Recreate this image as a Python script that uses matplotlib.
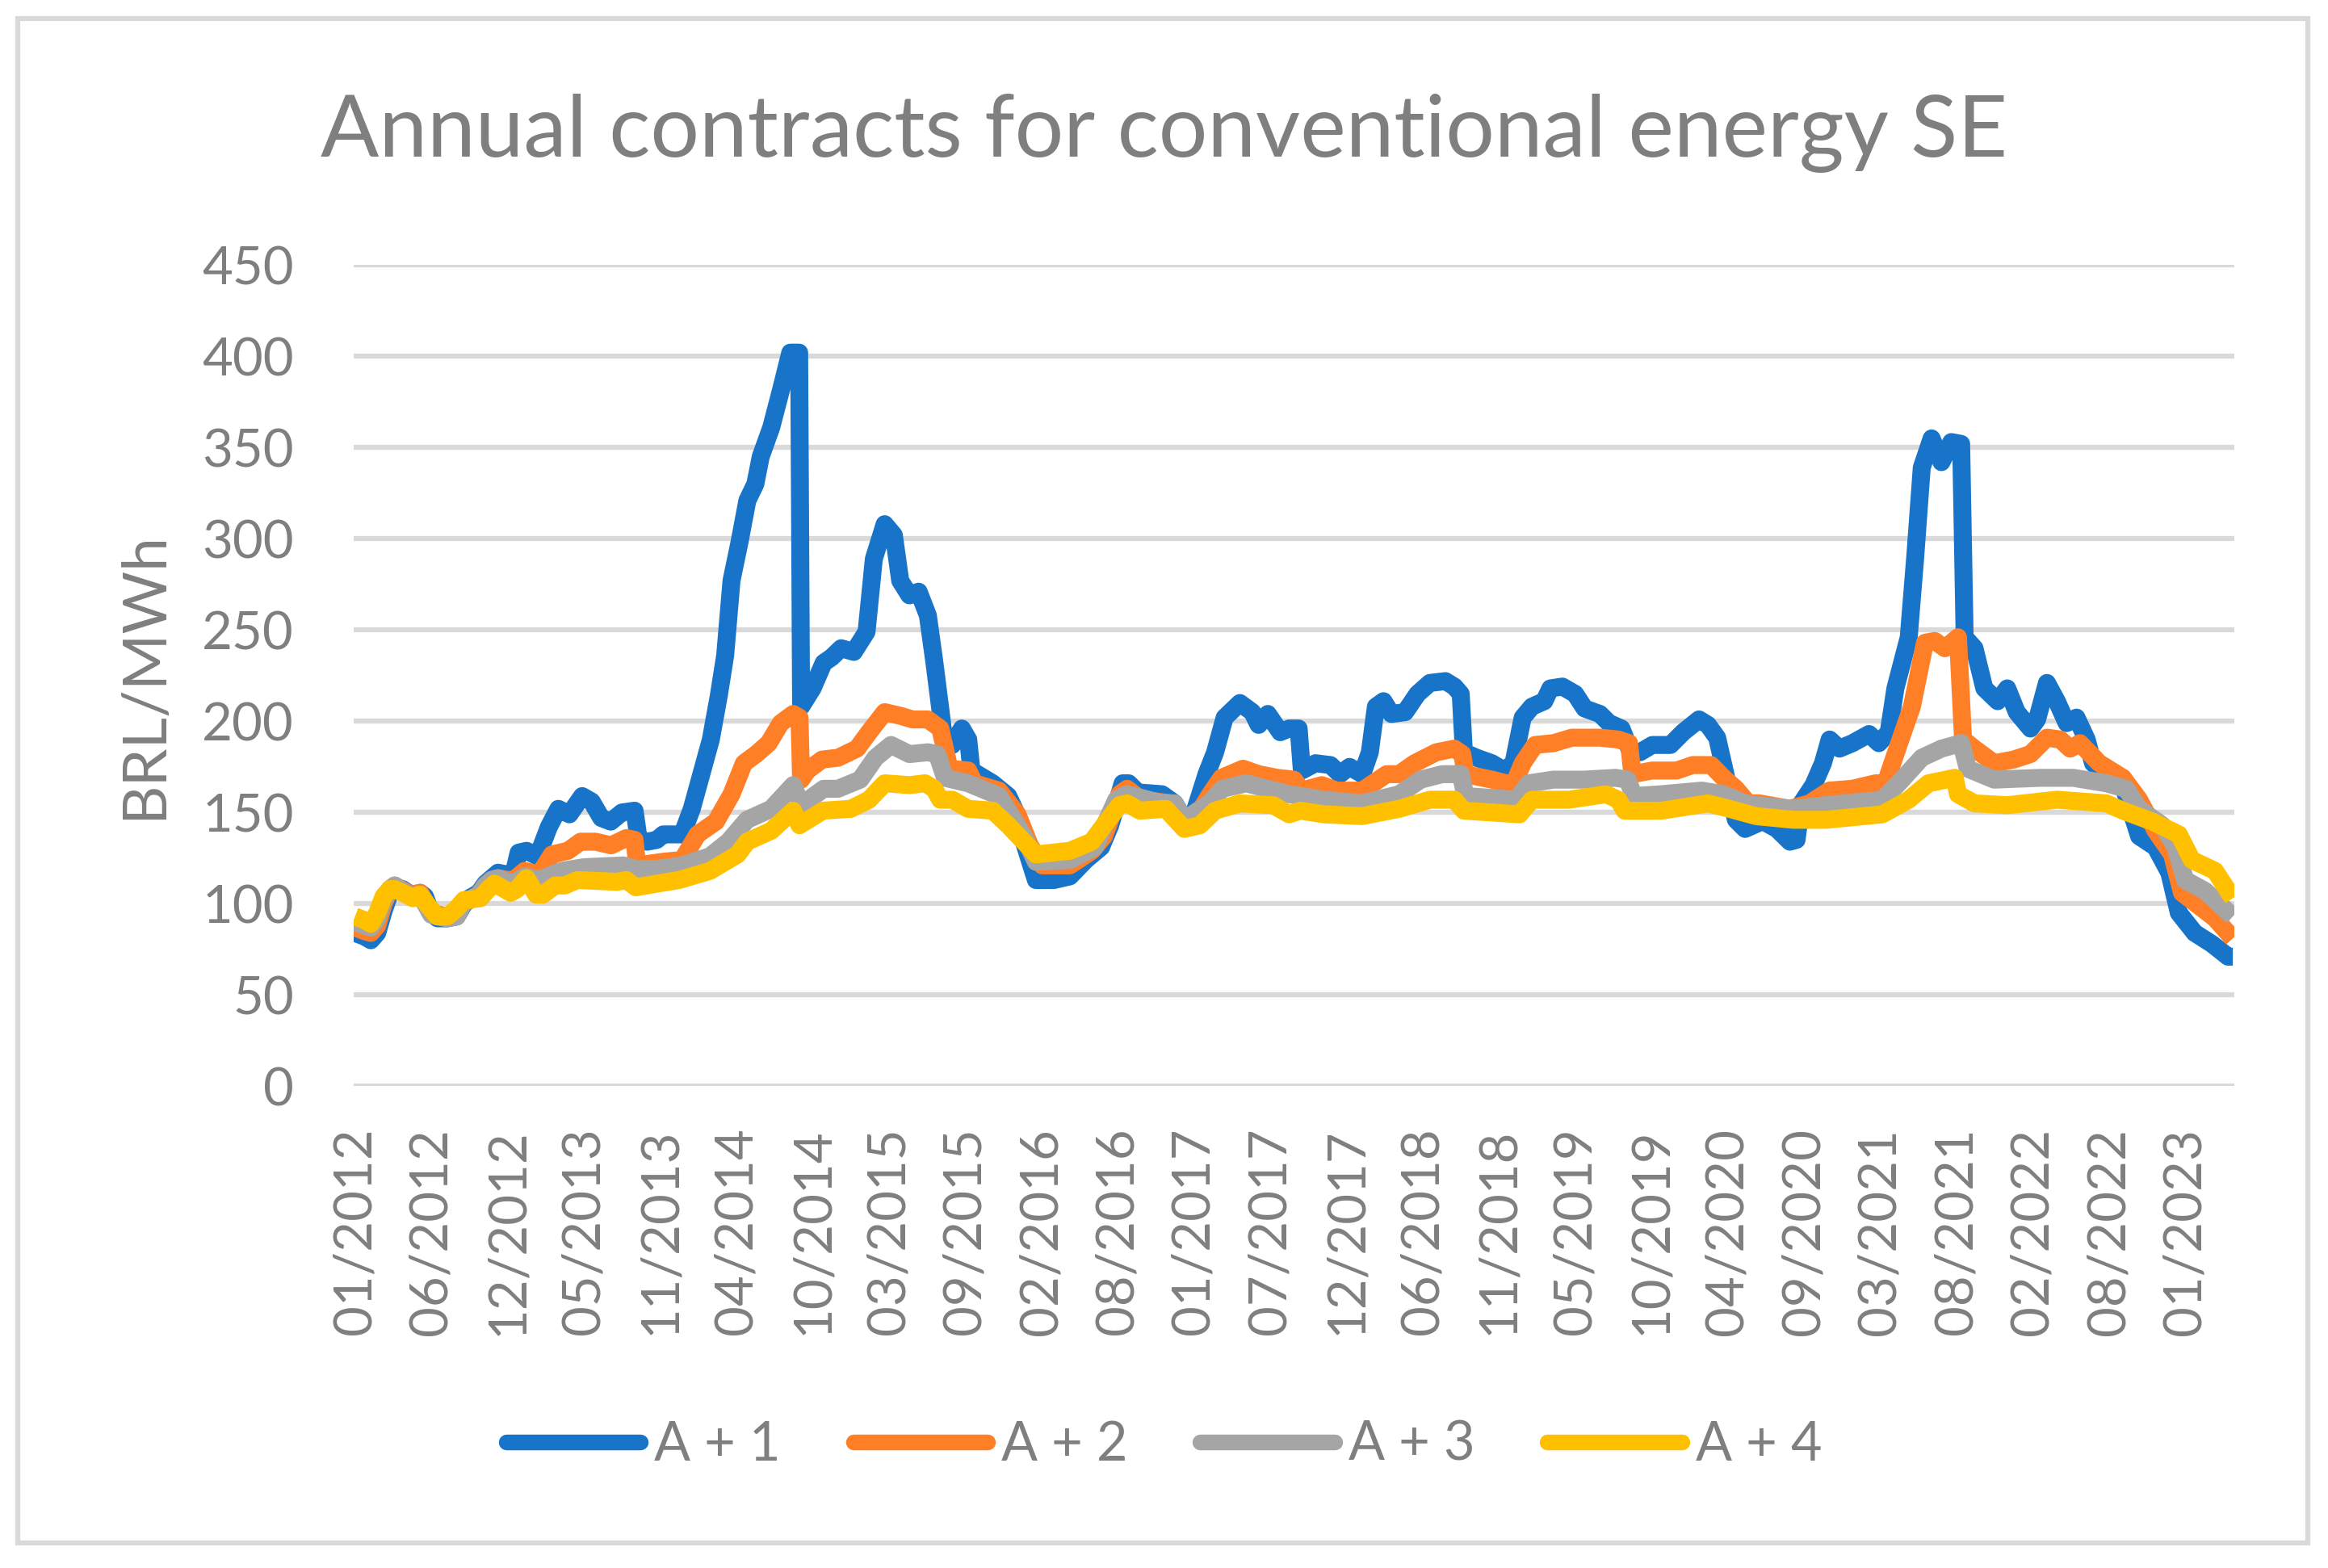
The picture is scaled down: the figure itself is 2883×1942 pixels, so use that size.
import matplotlib
matplotlib.use("Agg")
import matplotlib.pyplot as plt
from matplotlib.patches import Rectangle

plt.rcParams['font.family'] = ['Lato', 'DejaVu Sans']

# weekly series (week index from first week of 01/2012), values in BRL/MWh
a1_weeks = [0, 3, 5, 7, 9, 11, 12.5, 15, 17.5, 19, 20.5, 22, 24, 26, 29, 32, 34, 36, 39, 41, 43, 45, 48, 50,
            51.5, 54, 57.5, 61, 64, 67.5, 71.5, 74.5, 77.5, 80.5, 84, 88, 89.3, 92, 95, 97, 103, 106, 109, 112,
            114.5, 116.5, 118.5, 121, 123.5, 126, 127.7, 131, 134, 137, 139.8, 140.4, 144, 147.5, 150, 153, 157,
            161, 163.3, 166.7, 169.6, 171.6, 174.5, 177.4, 180.3, 182.3, 185.2, 188, 191, 193, 194, 200.7, 205.6,
            208, 210.5, 214.3, 220, 225, 230, 234.8, 237.7, 241.6, 243.5, 246.4, 254, 258, 261, 264, 268, 270.7,
            273.7, 278.5, 282.4, 284.4, 287.3, 291.2, 294, 297, 298, 302.3, 307, 310, 313, 317, 319.4, 321.3,
            323.7, 326.2, 330.5, 334.4, 338.3, 343.2, 346, 348, 349, 353, 357.8, 361.7, 364.6, 367.5, 370.4,
            374.3, 376.2, 380, 384, 387, 391.8, 394.7, 398.6, 401.5, 404.4, 408.3, 414, 418, 423, 425.8, 428.7,
            431.7, 434.6, 437.5, 441.4, 442.3, 447.5, 451.6, 453.7, 455.2, 459, 462, 464.1, 467.2, 471.3, 476.5,
            479.6, 482.7, 484.8, 489, 491, 493.1, 496.2, 499.3, 502.4, 505.5, 506.6, 509.7, 512.8, 517, 520, 523,
            527.3, 529.4, 532.5, 535.6, 538.7, 541.8, 545, 547, 551, 556.4, 561.5, 566.7, 571, 574, 579, 584.4,
            589.5, 591]
a1_values = [84, 82, 80, 84, 96, 106, 109, 108, 105, 104, 106, 104, 95, 92, 92, 93, 99, 103, 106, 111, 114, 117, 116, 117,
             128, 129, 126, 142, 152, 149, 159, 156, 147, 145, 150, 151, 135, 134, 135, 138, 138, 152, 171, 190,
             214, 236, 277, 298, 321, 330, 345, 361, 381, 402, 402, 208, 218, 232, 235, 240, 238,
             249, 289, 308, 302, 277, 269, 271, 258, 233, 193, 187, 196, 190, 173, 166, 159,
             150, 134, 113, 113, 115, 124, 131, 143, 166, 166, 161, 160, 155, 146, 149, 171, 183,
             202, 210, 205, 198, 204, 194, 196, 196, 173, 177, 176, 171, 175, 171, 183, 208,
             211, 204, 205, 215, 221, 222, 219, 215, 183, 180, 177, 173, 177, 202, 208,
             211, 218, 219, 215, 207, 204, 199, 196, 183, 183, 187, 187, 194, 201, 198, 191,
             168, 146, 141, 144, 146, 141, 134, 135, 155, 165, 177, 190, 185, 188, 193,
             188, 194, 218, 246, 289, 339, 355, 342, 353, 352, 246, 240, 218, 211, 218, 205,
             196, 201, 221, 211, 199, 202, 190, 177, 171, 165, 137, 131, 117, 95, 84, 78,
             71, 71]

a2_weeks = [0, 3, 5, 7, 9, 11, 12.5, 17.5, 20.5, 24, 29, 32, 34, 39, 41, 43, 45, 48, 50, 53.4, 58, 62, 67, 71, 75.7,
            80.6, 85.4, 88, 88.8, 97, 103, 107.8, 113.6, 118.5, 122.4, 126.3, 130.2, 134, 137.9, 139.9, 140.4,
            142.4, 147, 152, 158, 161.8, 166.7, 171.6, 175.5, 180.3, 184.2, 187.1, 193, 194.9, 202.7, 208.5,
            212.4, 216.3, 225, 231.9, 235.7, 240.6, 243, 247.4, 257, 261, 265, 268.8, 272.7, 279.5, 284.4, 290.2,
            295.5, 298, 304.3, 309, 317, 324.7, 328.6, 333.5, 340.3, 346, 348.5, 349.5, 357.8, 364.6, 367.5,
            371.4, 377.2, 383, 391.8, 397.6, 401, 402, 408.3, 416, 421, 426.8, 430.7, 434.6, 438.5, 442, 451.6,
            457.8, 464, 471.3, 478.6, 481.7, 485.8, 490, 494.1, 497.2, 500.4, 504.5, 506.1, 509.7, 515.9, 522,
            527.3, 532.5, 536.7, 539.8, 542.9, 549, 556.4, 561.5, 566.7, 571.9, 575, 580.2, 585.4, 591]
a2_values = [87, 85, 84, 88, 100, 108, 110, 105, 106, 95, 93, 94, 100, 105, 110, 113, 114, 113, 113, 118, 116, 127, 129, 134, 134,
             132, 136, 135, 121, 123, 124, 138, 145, 160, 177, 182, 188, 199, 204, 202, 168,
             173, 179, 180, 185, 194, 205, 203, 201, 201, 196, 174, 173, 166, 162, 149,
             132, 121, 121, 129, 137, 160, 163, 157, 155, 146, 148, 159, 169, 174, 171, 169,
             168, 162, 165, 162, 162, 171, 171, 177, 183, 185, 182, 171, 168, 165, 177,
             187, 188, 191, 191, 190, 188, 171, 173, 173, 176, 176, 169, 163, 155, 155, 152,
             155, 162, 163, 166, 166, 187, 208, 243, 244, 240, 246, 190, 185, 177, 179,
             182, 191, 190, 185, 188, 177, 169, 157, 140, 127, 106, 99, 92, 81]

a3_weeks = [0, 3, 5, 7, 9, 11, 12.5, 17.5, 20.5, 24, 29, 32, 34, 39, 41, 43, 45, 48, 50, 53.4, 58, 65, 72, 84.5, 88.4,
            95, 103, 111.7, 117.5, 123.4, 131, 137.9, 140.4, 147.5, 152, 159, 163.8, 168.7, 174.5, 180.3, 183.2,
            185.7, 193, 202.7, 210.5, 214.3, 225, 232.8, 239.6, 243, 254, 258, 261, 268.8, 273, 280.5, 294,
            297.5, 305, 316.9, 328.6, 335.4, 342.2, 348, 349.5, 365.5, 369.4, 377.2, 386.9, 396.7, 400.5, 402.5,
            411.2, 423.9, 430.7, 437.5, 441, 452.7, 463, 480.7, 485.8, 493.1, 499.3, 505.5, 507.6, 515.9, 530.4,
            540.8, 551.2, 557.4, 561.5, 568.8, 573, 576, 582.3, 591]
a3_values = [90, 88, 87, 92, 102, 108, 110, 104, 105, 94, 92, 93, 100, 105, 110, 113, 114, 112, 111, 115, 113, 118, 120, 121, 119,
             119, 121, 126, 134, 146, 152, 165, 154, 163, 163, 168, 180, 187, 182, 183, 182,
             169, 166, 159, 137, 123, 124, 131, 157, 160, 155, 155, 146, 155, 163, 166, 160,
             159, 157, 155, 160, 168, 171, 171, 159, 157, 166, 168, 168, 169, 168, 159,
             160, 162, 160, 155, 154, 152, 154, 157, 166, 180, 185, 188, 174, 168, 169,
             169, 166, 163, 152, 143, 131, 113, 107, 93]

a4_weeks = [0, 3, 5, 7, 9, 11, 12.4, 15, 18.3, 20.4, 23, 25.9, 29, 31.8, 34.3, 39.4, 42, 43.9, 47, 49, 51, 54, 57,
            59.2, 63, 66, 70, 82.5, 85.4, 88.4, 95, 102, 111.7, 120.4, 123.4, 131, 137.9, 139.9, 147.3, 156,
            161.8, 166.7, 174.5, 179.4, 182.3, 184.2, 188, 193, 200.7, 205.6, 210.5, 214.3, 225, 231.9, 235.7,
            240.6, 243, 247, 255.2, 261, 265.9, 270.7, 278.5, 289, 294, 297.5, 305, 316.9, 328.6, 338.3, 346,
            349, 357.8, 366.5, 370.4, 382, 393.7, 397.6, 399.6, 411.2, 425.8, 432.6, 441, 452.7, 463, 480.7,
            489, 495.2, 503.5, 504.5, 509.7, 520, 535.6, 551.2, 556.4, 565.7, 574, 578.1, 585.4, 591]
a4_values = [93, 91, 89, 95, 104, 108, 108, 106, 103, 105, 99, 93, 93, 97, 102, 103, 108, 111, 108, 106, 108, 114, 105,
             105, 110, 110, 113, 112, 113, 109, 111, 113, 118, 127, 134, 140, 151, 143, 151, 152,
             157, 166, 165, 166, 163, 157, 157, 152, 151, 143, 134, 127, 129, 134, 143,
             154, 155, 151, 152, 141, 143, 151, 155, 154, 149, 151, 149, 148, 152, 157, 157,
             151, 150, 149, 157, 157, 160, 157, 151, 151, 155, 152, 148, 146, 146, 149,
             157, 166, 169, 160, 155, 154, 157, 155, 151, 145, 138, 124, 118, 103]

series_names = ['A + 1', 'A + 2', 'A + 3', 'A + 4']
series_colors = ['#1874C8', '#FF7F27', '#A5A5A5', '#FFC000']
n_weeks = 592
tick_step = 24  # one label every 24 weeks
tick_labels = ['01/2012', '06/2012', '12/2012', '05/2013', '11/2013', '04/2014', '10/2014', '03/2015',
               '09/2015', '02/2016', '08/2016', '01/2017', '07/2017', '12/2017', '06/2018', '11/2018',
               '05/2019', '10/2019', '04/2020', '09/2020', '03/2021', '08/2021', '02/2022', '08/2022', '01/2023']
y_ticks = [0, 50, 100, 150, 200, 250, 300, 350, 400, 450]

grey = '#7f7f7f'

fig = plt.figure(figsize=(28.83, 19.42), dpi=100)
ax = fig.add_axes([0.1518, 0.30726, 0.8080, 0.5237])

data = [(a1_weeks, a1_values), (a2_weeks, a2_values), (a3_weeks, a3_values), (a4_weeks, a4_values)]
for (wk, vals), name, col in zip(data, series_names, series_colors):
    ax.plot(wk, vals, color=col, lw=16, label=name, solid_joinstyle='round', solid_capstyle='butt')

ax.set_xlim(-0.5, n_weeks - 0.5)
ax.set_ylim(0, 450)
ax.set_yticks(y_ticks)
ax.set_xticks([i * tick_step for i in range(len(tick_labels))])
ax.set_xticklabels(tick_labels, rotation=90)
ax.grid(axis='y', color='#d9d9d9', lw=4.5)
ax.set_axisbelow(True)
for s in ax.spines.values():
    s.set_visible(False)
ax.tick_params(axis='both', length=0, colors=grey, labelsize=47)
ax.tick_params(axis='y', pad=53)
ax.tick_params(axis='x', pad=37)

ax.text(-0.111, 0.5, 'BRL/MWh', transform=ax.transAxes, rotation=90, ha='center', va='center',
        fontsize=54, color=grey)

fig.text(0.5, 0.9001, 'Annual contracts for conventional energy SE', ha='center', va='baseline',
         fontsize=77, color=grey)

leg = fig.legend(loc='center', bbox_to_anchor=(0.5, 0.0783), ncol=4, frameon=False, fontsize=48,
                 handlelength=2.5, handletextpad=0.25, columnspacing=1.35)
for t in leg.get_texts():
    t.set_color(grey)
for l in leg.get_lines():
    l.set_solid_capstyle('round')
    l.set_linewidth(14)

# outer chart border
fig.patches.append(Rectangle((22 / 2883, 1 - 1911 / 1942), (2858 - 22) / 2883, (1911 - 23) / 1942,
                             transform=fig.transFigure, fill=False, edgecolor='#d9d9d9', lw=4.5))

fig.savefig('out.png', dpi=100)
